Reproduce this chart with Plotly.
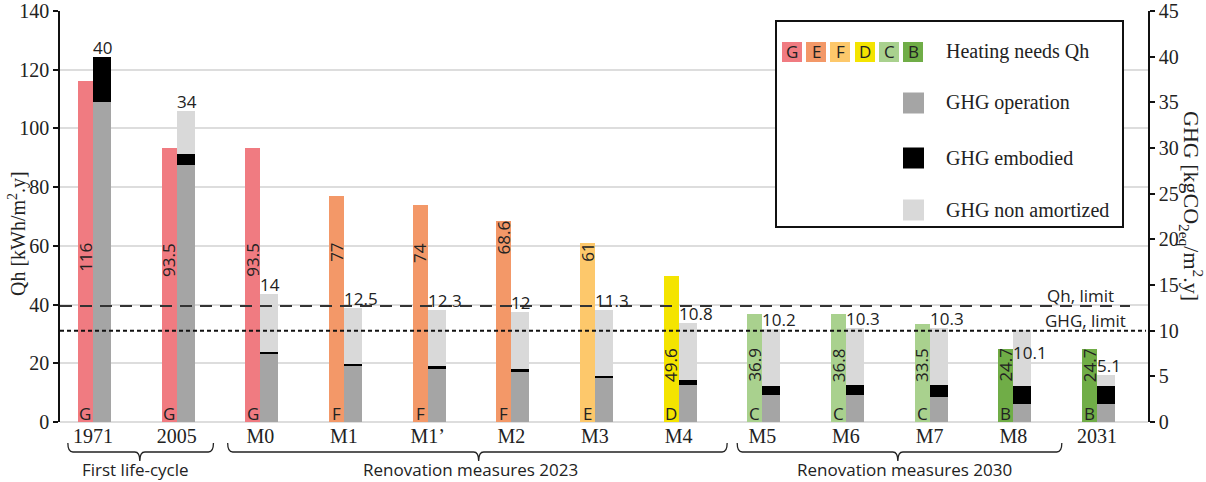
import plotly.graph_objects as go

# ---------------- data ----------------
categories = ["1971", "2005", "M0", "M1", "M1’", "M2", "M3", "M4", "M5", "M6", "M7", "M8", "2031"]
qh_values = [116, 93.5, 93.5, 77, 74, 68.6, 61, 49.6, 36.9, 36.8, 33.5, 24.7, 24.7]
qh_classes = ["G", "G", "G", "F", "F", "F", "E", "D", "C", "C", "C", "B", "B"]
ghg_operation = [35.0, 28.1, 7.5, 6.2, 5.9, 5.5, 4.8, 4.0, 2.95, 2.95, 2.75, 1.95, 1.95]
ghg_embodied = [5.0, 1.2, 0.2, 0.2, 0.2, 0.25, 0.25, 0.55, 1.0, 1.1, 1.35, 2.0, 2.0]
ghg_non_amortized = [0.0, 4.7, 6.3, 6.1, 6.2, 6.25, 7.2, 6.25, 6.25, 6.25, 6.2, 6.15, 1.15]
ghg_total_labels = ["40", "34", "14", "12.5", "12.3", "12", "11.3", "10.8", "10.2", "10.3", "10.3", "10.1", "5.1"]
qh_limit = 39.5
ghg_limit = 10
groups = ["First life-cycle", "Renovation measures 2023", "Renovation measures 2030"]

class_colors = {"G": "#F07B81", "F": "#F39868", "E": "#FDC86B", "D": "#F4E400", "C": "#A9D18E", "B": "#70AD47"}
legend_classes = ["G", "E", "F", "D", "C", "B"]
legend_colors = ["#F07B81", "#F39868", "#FDC86B", "#F4E400", "#A9D18E", "#70AD47"]
C_OP, C_EMB, C_NON = "#A5A5A5", "#000000", "#D9D9D9"

SERIF = "Liberation Serif, Times New Roman, serif"
SANS = "Open Sans, Noto Sans, sans-serif"
TXT = "#222222"

x = list(range(len(categories)))
QW, GW = 0.18, 0.215

fig = go.Figure()
fig.add_trace(go.Bar(x=x, y=qh_values, offset=-QW, width=QW,
                     marker=dict(color=[class_colors[c] for c in qh_classes], line=dict(width=0)),
                     yaxis="y", hoverinfo="skip", showlegend=False))
base_emb = [o for o in ghg_operation]
base_non = [o + e for o, e in zip(ghg_operation, ghg_embodied)]
fig.add_trace(go.Bar(x=x, y=ghg_operation, offset=0, width=GW, marker=dict(color=C_OP, line=dict(width=0)),
                     yaxis="y2", hoverinfo="skip", showlegend=False))
fig.add_trace(go.Bar(x=x, y=ghg_embodied, base=base_emb, offset=0, width=GW,
                     marker=dict(color=C_EMB, line=dict(width=0)),
                     yaxis="y2", hoverinfo="skip", showlegend=False))
fig.add_trace(go.Bar(x=x, y=ghg_non_amortized, base=base_non, offset=0, width=GW,
                     marker=dict(color=C_NON, line=dict(width=0)),
                     yaxis="y2", hoverinfo="skip", showlegend=False))

# plot geometry (pixels)
L, R, T, B = 60, 1148, 11, 422
W, H = 1206, 482
def px(v):
    return (v - L) / (R - L)
def py(v):
    return (B - v) / (B - T)

ann = []
shapes = []

# Qh value labels (vertical) and class letters
for i, v in enumerate(qh_values):
    if v > 55:
        ytop = v if v < 70 else 61
        ann.append(dict(x=i - QW / 2, y=ytop, xref="x", yref="y", text=str(v), textangle=-90,
                        showarrow=False, yanchor="top", xanchor="center", yshift=2,
                        font=dict(family=SANS, size=17, color=TXT)))
    else:
        ann.append(dict(x=i - QW / 2, y=13, xref="x", yref="y", text=str(v), textangle=-90,
                        showarrow=False, yanchor="bottom", xanchor="center",
                        font=dict(family=SANS, size=17, color=TXT)))
    ann.append(dict(x=i - QW / 2, y=0, xref="x", yref="y", text=qh_classes[i], showarrow=False,
                    yanchor="bottom", xanchor="center", yshift=-5,
                    font=dict(family=SANS, size=17, color=TXT)))

# GHG totals
for i in x:
    tot = ghg_operation[i] + ghg_embodied[i] + ghg_non_amortized[i]
    ylab = tot
    if categories[i] == "M8":
        ylab = 6.6
    ann.append(dict(x=i, y=ylab, xref="x", yref="y2", text=ghg_total_labels[i], showarrow=False,
                    xanchor="left", yanchor="bottom", xshift=-2, yshift=-4,
                    font=dict(family=SANS, size=17, color=TXT)))

# limit lines
shapes.append(dict(type="line", xref="paper", yref="y", x0=0, x1=px(1130), y0=qh_limit, y1=qh_limit,
                   line=dict(color="#333333", width=2, dash="12px,8px")))
shapes.append(dict(type="line", xref="paper", yref="y2", x0=0, x1=px(1146), y0=ghg_limit, y1=ghg_limit,
                   line=dict(color="#111111", width=2, dash="4px,3px")))
ann.append(dict(x=px(1080), y=py(296), xref="paper", yref="paper", text="Qh, limit", showarrow=False,
                xanchor="center", yanchor="middle", font=dict(family=SANS, size=17, color=TXT)))
ann.append(dict(x=px(1085), y=py(320), xref="paper", yref="paper", text="GHG, limit", showarrow=False,
                xanchor="center", yanchor="middle", font=dict(family=SANS, size=17, color=TXT)))

# group braces under x axis
brace_spans = [(-0.30, 1.44, 0.56), (1.61, 7.58, 4.61), (7.70, 11.58, 9.62)]
text_centers = [0.51, 4.51, 9.70]
for (a, b, m), g, tc in zip(brace_spans, groups, text_centers):
    y_top, y_line, y_tip = py(443), py(452), py(461)
    d = 0.06
    path = (f"M {a},{y_top} Q {a},{y_line} {a + d},{y_line} L {m - d},{y_line} "
            f"Q {m},{y_line} {m},{y_tip} Q {m},{y_line} {m + d},{y_line} L {b - d},{y_line} "
            f"Q {b},{y_line} {b},{y_top}")
    shapes.append(dict(type="path", xref="x", yref="paper", path=path,
                       line=dict(color="#222222", width=1.3)))
    ann.append(dict(x=tc, y=py(469), xref="x", yref="paper", text=g, showarrow=False,
                    xanchor="center", yanchor="middle", font=dict(family=SANS, size=17, color=TXT)))

# legend box
shapes.append(dict(type="rect", xref="paper", yref="paper", x0=px(776), x1=px(1123), y0=py(227), y1=py(21),
                   line=dict(color="#111111", width=2), fillcolor="white", layer="above"))
sq = 20
lx = [782, 806, 830, 855, 879, 903]
for cx, c, col in zip(lx, legend_classes, legend_colors):
    shapes.append(dict(type="rect", xref="paper", yref="paper", x0=px(cx), x1=px(cx + sq),
                       y0=py(62), y1=py(42), fillcolor=col, line=dict(width=0), layer="above"))
    ann.append(dict(x=px(cx + sq / 2), y=py(52), xref="paper", yref="paper", text=c, showarrow=False,
                    xanchor="center", yanchor="middle", font=dict(family=SANS, size=17, color=TXT)))
legend_rows = [("Heating needs Qh", None, 52), ("GHG operation", C_OP, 103), ("GHG embodied", C_EMB, 158),
               ("GHG non amortized", C_NON, 210)]
for label, col, cy in legend_rows:
    if col is not None:
        shapes.append(dict(type="rect", xref="paper", yref="paper", x0=px(903), x1=px(924),
                           y0=py(cy + 10.5), y1=py(cy - 10.5), fillcolor=col, line=dict(width=0), layer="above"))
    ann.append(dict(x=px(944), y=py(cy), xref="paper", yref="paper", text=label, showarrow=False,
                    xanchor="left", yanchor="middle", font=dict(family=SERIF, size=20, color=TXT)))

# axis titles
ann.append(dict(x=px(17), y=py(234), xref="paper", yref="paper", text="Qh [kWh/m<sup>2</sup>.y]",
                textangle=-90, showarrow=False, xanchor="center", yanchor="middle",
                font=dict(family=SERIF, size=20, color=TXT)))
ann.append(dict(x=px(1192), y=py(206), xref="paper", yref="paper",
                text="GHG [kgCO<sub>2eq</sub>/m<sup>2</sup>.y]",
                textangle=90, showarrow=False, xanchor="center", yanchor="middle",
                font=dict(family=SERIF, size=22, color=TXT)))

fig.update_layout(
    width=W, height=H,
    margin=dict(l=L, r=W - R, t=T, b=H - B, autoexpand=False),
    paper_bgcolor="white", plot_bgcolor="white",
    barmode="overlay", bargap=0,
    showlegend=False,
    xaxis=dict(range=[-0.394, 12.61], tickmode="array", tickvals=x, ticktext=categories,
               showgrid=False, showline=False, zeroline=False, ticks="",
               tickfont=dict(family=SERIF, size=20, color=TXT)),
    yaxis=dict(range=[0, 140], dtick=20, tick0=0, showgrid=True, gridcolor="#DDDDDD", gridwidth=1.5,
               zeroline=True, zerolinecolor="#DDDDDD", zerolinewidth=1.5,
               showline=True, linecolor="#111111", linewidth=1.5,
               ticks="outside", ticklen=5, tickcolor="#111111", tickwidth=1.5,
               ticklabeloverflow="allow",
               tickfont=dict(family=SERIF, size=20, color=TXT)),
    yaxis2=dict(range=[0, 45], dtick=5, tick0=0, overlaying="y", side="right", showgrid=False,
                zeroline=False, showline=True, linecolor="#111111", linewidth=1.5,
                ticks="outside", ticklen=5, tickcolor="#111111", tickwidth=1.5,
                ticklabeloverflow="allow",
                tickfont=dict(family=SERIF, size=20, color=TXT)),
    annotations=ann, shapes=shapes,
)

fig.write_html("out.html", config={"displayModeBar": False},
               post_script="document.body.style.margin='0px';document.body.style.overflow='hidden';")
